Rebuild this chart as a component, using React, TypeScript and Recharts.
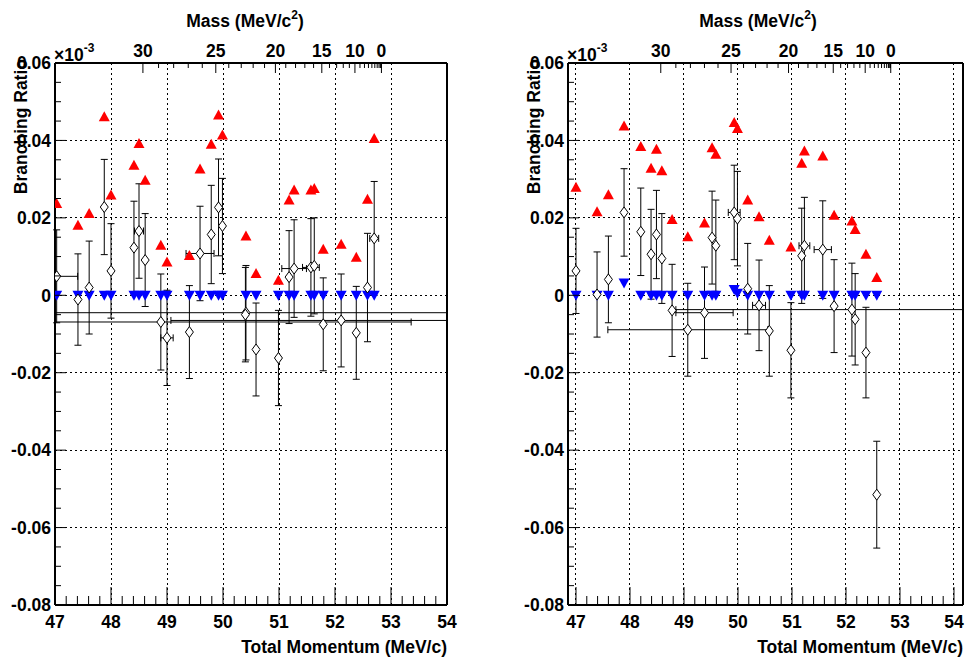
import React from "react";
import { ScatterChart, Scatter, XAxis, YAxis, ErrorBar, ReferenceLine } from "recharts";

const FONT = "'Liberation Sans', Arial, Helvetica, sans-serif";
const FS = 17.5;

// muon mass; the top axis shows the mass of X that gives the e+ momentum below
const M_MU = 105.658;
const momentumOf = (m: number) => (M_MU * M_MU - m * m) / (2 * M_MU);
const massOf = (p: number) => Math.sqrt(Math.max(0, M_MU * M_MU - 2 * M_MU * p));

// ─── Axis ticks ────────────────────────────────────────────

const momentumTicks = [47, 48, 49, 50, 51, 52, 53, 54];
const ratioTicks = [0.06, 0.04, 0.02, 0, -0.02, -0.04, -0.06, -0.08];
const ratioLabels = ["0.06", "0.04", "0.02", "0", "-0.02", "-0.04", "-0.06", "-0.08"];
const massLabelled = [30, 25, 20, 15, 10, 0];
const massTicks = [30, 29, 28, 27, 26, 25, 24, 23, 22, 21, 20, 19, 18, 17, 16, 15, 14, 13, 12, 11, 10, 9, 8, 7, 6, 5, 4, 3, 2, 1, 0];

// ─── Left panel ────────────────────────────────────────────

const leftTriX = [47.03, 47.41, 47.61, 47.88, 48.0, 48.41, 48.5, 48.61, 48.89, 49.0, 49.4, 49.59, 49.79, 49.92, 49.99, 50.41, 50.59, 50.99, 51.18, 51.27, 51.57, 51.63, 51.79, 52.11, 52.38, 52.58, 52.7];
const leftRedY = [0.0237, 0.0181, 0.0211, 0.0461, 0.0259, 0.0336, 0.0392, 0.0297, 0.0129, 0.0086, 0.0103, 0.0326, 0.039, 0.0466, 0.0414, 0.0153, 0.0056, 0.0039, 0.0246, 0.0272, 0.0272, 0.0276, 0.0119, 0.0132, 0.0098, 0.0248, 0.0405];
const leftBlueY = [0, 0, 0, 0, 0, 0, 0, 0, 0, 0, 0, 0, 0, 0, 0, 0, 0, 0, 0, 0, 0, 0, 0, 0, 0, 0, 0];

const leftDiaX = [47.03, 47.41, 47.61, 47.88, 48.0, 48.41, 48.5, 48.61, 48.89, 49.0, 49.4, 49.59, 49.79, 49.92, 49.99, 50.41, 50.4, 50.59, 50.99, 51.18, 51.27, 51.57, 51.63, 51.79, 52.11, 52.38, 52.58, 52.7];
const leftDiaY = [0.0049, -0.0011, 0.002, 0.0228, 0.0063, 0.0123, 0.0166, 0.0091, -0.0069, -0.011, -0.0095, 0.0108, 0.0157, 0.0227, 0.0179, -0.0045, -0.005, -0.014, -0.0162, 0.0047, 0.0069, 0.0072, 0.0076, -0.0075, -0.0065, -0.0097, 0.002, 0.0147];
const leftDiaErrY = [0.012, 0.0118, 0.012, 0.0123, 0.0122, 0.012, 0.0122, 0.012, 0.0124, 0.0123, 0.012, 0.0122, 0.0127, 0.0125, 0.0123, 0.0122, 0.0122, 0.012, 0.0123, 0.012, 0.0126, 0.0126, 0.0124, 0.012, 0.012, 0.012, 0.014, 0.0147];
// [below, above] as far as each bar is visible inside the frame
const leftDiaErrX: [number, number][] = [
  [0.03, 0.375], [0, 0], [0, 0], [0, 0], [0, 0], [0, 0], [0.08, 0.08], [0, 0], [1.89, 4.47], [0.11, 0.11],
  [0, 0], [0.25, 0.25], [0, 0], [0, 0], [0, 0], [3.41, 3.59], [0, 0], [0, 0], [0, 0], [0, 0],
  [0.22, 0.22], [0.15, 0.15], [0, 0], [0, 0], [3.04, 1.89], [0, 0], [0, 0], [0.08, 0.08],
];

// ─── Right panel ───────────────────────────────────────────

const rightTriX = [47.0, 47.39, 47.6, 47.89, 48.2, 48.39, 48.49, 48.59, 48.78, 49.07, 49.38, 49.52, 49.59, 49.93, 49.99, 50.18, 50.39, 50.58, 50.98, 51.18, 51.23, 51.57, 51.78, 52.11, 52.17, 52.37, 52.57];
const rightRedY = [0.0279, 0.0216, 0.026, 0.0437, 0.0384, 0.0328, 0.0377, 0.0322, 0.0196, 0.0151, 0.0187, 0.0381, 0.0364, 0.0446, 0.0431, 0.0246, 0.0203, 0.0142, 0.0125, 0.0341, 0.0373, 0.036, 0.0207, 0.0192, 0.017, 0.0106, 0.0046];
const rightBlueY = [0, 0, 0, 0.0032, 0, 0, 0, 0, 0, 0, 0, 0, 0, 0.0015, 0.0005, 0, 0, 0, 0, 0, 0, 0, 0, 0, 0, 0, 0];

const rightDiaX = [47.0, 47.39, 47.6, 47.89, 48.2, 48.39, 48.49, 48.59, 48.78, 49.07, 49.38, 49.52, 49.59, 49.93, 49.99, 50.18, 50.39, 50.58, 50.98, 51.18, 51.23, 51.57, 51.78, 52.11, 52.17, 52.37, 52.57];
const rightDiaY = [0.0063, 0.0002, 0.0041, 0.0214, 0.0164, 0.0106, 0.0157, 0.0095, -0.0039, -0.0089, -0.0045, 0.0149, 0.0128, 0.0214, 0.0198, 0.0017, -0.0026, -0.0092, -0.0142, 0.0102, 0.0128, 0.0118, -0.0028, -0.0037, -0.0062, -0.0148, -0.0515];
const rightDiaErrY = [0.011, 0.011, 0.0112, 0.0113, 0.0113, 0.0116, 0.0114, 0.0116, 0.0119, 0.012, 0.0118, 0.012, 0.0118, 0.0122, 0.0122, 0.0117, 0.0117, 0.0117, 0.0123, 0.0123, 0.0125, 0.0126, 0.012, 0.012, 0.0118, 0.0117, 0.0138];
const rightDiaErrX: [number, number][] = [
  [0, 0], [0, 0], [0, 0], [0, 0], [0, 0], [0, 0], [0, 0], [0, 0], [0, 0], [1.48, 1.48],
  [0.53, 0.53], [0, 0], [0, 0], [0.11, 0.11], [0, 0], [0, 0], [0.12, 0.12], [0, 0], [0, 0], [0, 0],
  [0.1, 0.1], [0.16, 0.16], [0, 0], [3.26, 2.05], [0, 0], [0, 0], [0, 0],
];

// ─── Tick helpers ──────────────────────────────────────────

const near = (a: number, b: number) => Math.abs(a - b) < 1e-6;

const xTicks = momentumTicks.flatMap((t, i) =>
  i === momentumTicks.length - 1 ? [t] : [0, 1, 2, 3, 4].map((k) => t + k * 0.2)
);
const yTicks = ratioTicks.flatMap((t, i) =>
  i === ratioTicks.length - 1 ? [t] : [0, 1, 2, 3].map((k) => t - k * 0.005)
);
const topTicks = massTicks.map(momentumOf);

function BottomTick(props: any) {
  const { x, y, payload } = props;
  const major = momentumTicks.some((t) => near(t, payload.value));
  return (
    <g>
      <line x1={x} x2={x} y1={y} y2={y - (major ? 18 : 9)} stroke="#000" />
      {major && (
        <text x={x} y={y + 23} textAnchor="middle" fontSize={FS} fontWeight="bold" fontFamily={FONT} fill="#000">
          {Math.round(payload.value)}
        </text>
      )}
    </g>
  );
}

function LeftTick(props: any) {
  const { x, y, payload } = props;
  const idx = ratioTicks.findIndex((t) => near(t, payload.value));
  const major = idx >= 0;
  return (
    <g>
      <line x1={x} x2={x + (major ? 11 : 6)} y1={y} y2={y} stroke="#000" />
      {major && (
        <text x={x - 4} y={y} dy="0.36em" textAnchor="end" fontSize={FS} fontWeight="bold" fontFamily={FONT} fill="#000">
          {ratioLabels[idx]}
        </text>
      )}
    </g>
  );
}

function TopTick(props: any) {
  const { x, y, payload } = props;
  const m = Math.round(massOf(payload.value));
  const major = massLabelled.includes(m);
  return (
    <g>
      <line x1={x} x2={x} y1={y} y2={y + (major ? 10 : 5)} stroke="#000" />
      {major && (
        <text x={x} y={y - 6} textAnchor="middle" fontSize={FS} fontWeight="bold" fontFamily={FONT} fill="#000">
          {m}
        </text>
      )}
    </g>
  );
}

// ─── Markers ───────────────────────────────────────────────

function UpTriangle({ cx, cy }: any) {
  return <polygon points={`${cx - 5.5},${cy + 4.5} ${cx + 5.5},${cy + 4.5} ${cx},${cy - 5.5}`} fill="#ff0000" />;
}

function DownTriangle({ cx, cy }: any) {
  return <polygon points={`${cx - 5.5},${cy - 4.5} ${cx + 5.5},${cy - 4.5} ${cx},${cy + 5.5}`} fill="#0000ff" />;
}

function Diamond({ cx, cy }: any) {
  return (
    <polygon
      points={`${cx},${cy - 5.5} ${cx + 4},${cy} ${cx},${cy + 5.5} ${cx - 4},${cy}`}
      fill="#fff"
      stroke="#000"
      strokeWidth={1}
    />
  );
}

const Nothing = () => <g />;

// ─── Panel ─────────────────────────────────────────────────

const W = 483;
const H = 665;
const TOP_H = 63;
const BOTTOM_H = 60;

function Panel({
  domain,
  axisWidth,
  marginRight,
  triX,
  redY,
  blueY,
  diaX,
  diaY,
  diaErrY,
  diaErrX,
}: {
  domain: [number, number];
  axisWidth: number;
  marginRight: number;
  triX: number[];
  redY: number[];
  blueY: number[];
  diaX: number[];
  diaY: number[];
  diaErrY: number[];
  diaErrX: [number, number][];
}) {
  const red = triX.map((x, i) => ({ x, y: redY[i] }));
  const blue = triX.map((x, i) => ({ x, y: blueY[i] }));
  const dia = diaX.map((x, i) => ({ x, y: diaY[i], ey: diaErrY[i], ex: diaErrX[i] }));
  const plotLeft = axisWidth;
  const plotRight = W - marginRight;
  const frame = { stroke: "#000", strokeWidth: 2 };
  const grid = { stroke: "#000", strokeWidth: 1, strokeDasharray: "2 3", shapeRendering: "crispEdges" };

  return (
    <div style={{ position: "relative", width: W, height: H }}>
      <ScatterChart width={W} height={H} margin={{ top: 0, right: marginRight, bottom: 0, left: 0 }}>
        <XAxis
          xAxisId="b"
          type="number"
          dataKey="x"
          domain={domain}
          allowDataOverflow
          ticks={xTicks}
          interval={0}
          height={BOTTOM_H}
          tickSize={0}
          tickMargin={0}
          tickLine={false}
          axisLine={frame}
          tick={<BottomTick />}
        />
        <XAxis
          xAxisId="t"
          orientation="top"
          type="number"
          dataKey="x"
          domain={domain}
          allowDataOverflow
          ticks={topTicks}
          interval={0}
          height={TOP_H}
          tickSize={0}
          tickMargin={0}
          tickLine={false}
          axisLine={frame}
          tick={<TopTick />}
        />
        <YAxis
          yAxisId="l"
          type="number"
          dataKey="y"
          domain={[-0.08, 0.06]}
          allowDataOverflow
          ticks={yTicks}
          interval={0}
          width={axisWidth}
          tickSize={0}
          tickMargin={0}
          tickLine={false}
          axisLine={frame}
          tick={<LeftTick />}
        />
        {momentumTicks.map((v) => (
          <ReferenceLine key={`gx${v}`} xAxisId="b" yAxisId="l" x={v} {...grid} />
        ))}
        {ratioTicks.slice(1, -1).map((v) => (
          <ReferenceLine key={`gy${v}`} xAxisId="b" yAxisId="l" y={v} {...grid} />
        ))}
        <ReferenceLine xAxisId="b" yAxisId="l" x={domain[1]} {...frame} />
        {/* keeps the mass axis fed with data so it gets drawn */}
        <Scatter xAxisId="t" yAxisId="l" data={red} shape={<Nothing />} isAnimationActive={false} />
        <Scatter xAxisId="b" yAxisId="l" data={blue} shape={<DownTriangle />} isAnimationActive={false} />
        <Scatter xAxisId="b" yAxisId="l" data={red} shape={<UpTriangle />} isAnimationActive={false} />
        <Scatter xAxisId="b" yAxisId="l" data={dia} shape={<Diamond />} isAnimationActive={false}>
          <ErrorBar dataKey="ey" direction="y" width={3.5} stroke="#000" strokeWidth={1} isAnimationActive={false} />
          <ErrorBar dataKey="ex" direction="x" width={3.5} stroke="#000" strokeWidth={1} isAnimationActive={false} />
        </Scatter>
      </ScatterChart>
      <svg
        width={W}
        height={H}
        style={{ position: "absolute", left: 0, top: 0, pointerEvents: "none" }}
        fontFamily={FONT}
        fontWeight="bold"
        fontSize={FS}
        fill="#000"
      >
        <text x={plotLeft + 190} y={27} textAnchor="middle">
          Mass (MeV/c
          <tspan dy={-8} fontSize={12}>2</tspan>
          <tspan dy={8}>)</tspan>
        </text>
        <text x={plotLeft - 1} y={61}>
          ×10
          <tspan dy={-9} fontSize={12}>-3</tspan>
        </text>
        <text transform={`translate(${plotLeft - 28}, 59) rotate(-90)`} textAnchor="end">
          Branching Ratio
        </text>
        <text x={plotRight} y={653} textAnchor="end">
          Total Momentum (MeV/c)
        </text>
      </svg>
    </div>
  );
}

export default function App() {
  return (
    <div style={{ position: "absolute", left: 0, top: 0, width: 966, height: 665, background: "#fff", display: "flex" }}>
      <Panel
        domain={[47, 54]}
        axisWidth={55}
        marginRight={36}
        triX={leftTriX}
        redY={leftRedY}
        blueY={leftBlueY}
        diaX={leftDiaX}
        diaY={leftDiaY}
        diaErrY={leftDiaErrY}
        diaErrX={leftDiaErrX}
      />
      <Panel
        domain={[46.852, 54.167]}
        axisWidth={85}
        marginRight={3}
        triX={rightTriX}
        redY={rightRedY}
        blueY={rightBlueY}
        diaX={rightDiaX}
        diaY={rightDiaY}
        diaErrY={rightDiaErrY}
        diaErrX={rightDiaErrX}
      />
    </div>
  );
}
